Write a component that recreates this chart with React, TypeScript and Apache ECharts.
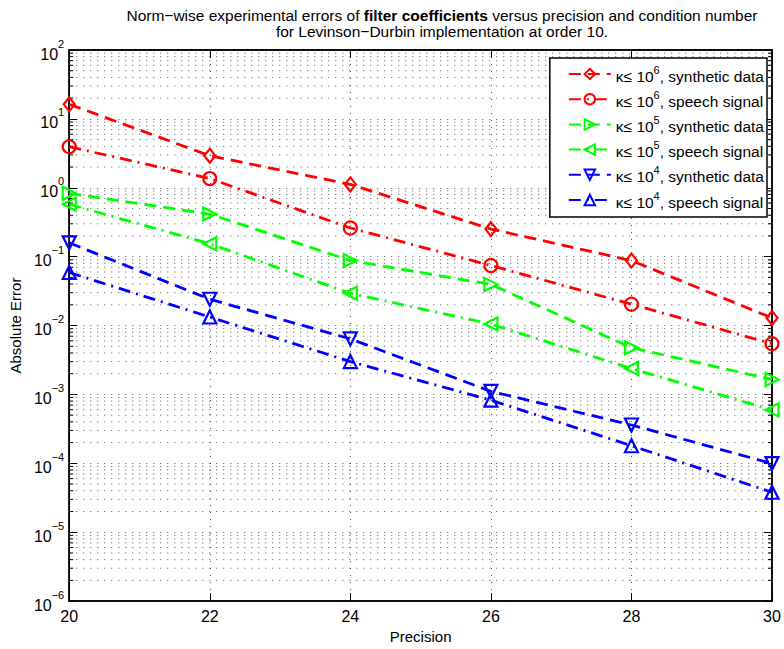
import React, { useEffect, useRef } from 'react';
import * as echarts from 'echarts';

const precision = [20, 22, 24, 26, 28, 30];
const synth6 = [16.3, 2.92, 1.12, 0.252, 0.0877, 0.0129];
const speech6 = [3.94, 1.36, 0.261, 0.0743, 0.0204, 0.00545];
const synth5 = [0.83, 0.415, 0.0877, 0.0396, 0.00477, 0.00165];
const speech5 = [0.577, 0.154, 0.0294, 0.0105, 0.00238, 0.000593];
const synth4 = [0.159, 0.0241, 0.0064, 0.00111, 0.00036, 0.0000993];
const speech4 = [0.0589, 0.0133, 0.003, 0.000826, 0.00018, 0.000038];

const seriesNames = [
  'k6 synthetic data',
  'k6 speech signal',
  'k5 synthetic data',
  'k5 speech signal',
  'k4 synthetic data',
  'k4 speech signal',
];
const exponents = ['6', '6', '5', '5', '4', '4'];
const kinds = ['synthetic data', 'speech signal', 'synthetic data', 'speech signal', 'synthetic data', 'speech signal'];
const yMin = 1e-6;
const yMax = 100;
const minorFactors = [2, 3, 4, 5, 6, 7, 8, 9];

const FONT = '"Liberation Sans", Arial, Helvetica, sans-serif';

export default function App() {
  const ref = useRef<HTMLDivElement>(null);
  useEffect(() => {
    if (!ref.current) return;
    const chart = echarts.init(ref.current, undefined, { renderer: 'svg' });

    const minorVals: number[][] = [];
    for (let e = -6; e < 2; e++) {
      for (const f of minorFactors) minorVals.push([20, f * Math.pow(10, e)]);
    }

    const dataSets = [synth6, speech6, synth5, speech5, synth4, speech4];
    const colors = ['#ff0000', '#ff0000', '#00ff00', '#00ff00', '#0000ff', '#0000ff'];
    const symbols = [
      'diamond',
      'circle',
      'path://M0,0L10,5L0,10Z',
      'path://M10,0L0,5L10,10Z',
      'path://M0,0L10,0L5,10Z',
      'path://M5,0L10,10L0,10Z',
    ];
    const symbolSizes: any[] = [[11, 14], 13, [13, 13], [13, 13], [13, 13], [13, 13]];
    const dashSynth = [12, 7];
    const dashSpeech = [12, 6, 2, 6];
    const gridDots = [1, 6];

    const lineSeries = dataSets.map((d, i) => ({
      name: seriesNames[i],
      type: 'line',
      xAxisIndex: 0,
      yAxisIndex: 0,
      data: precision.map((x, j) => [x, d[j]]),
      symbol: symbols[i],
      symbolSize: symbolSizes[i],
      showAllSymbol: true,
      color: colors[i],
      lineStyle: { color: colors[i], width: 2.8, type: i % 2 === 0 ? dashSynth : dashSpeech },
      itemStyle: { color: 'rgba(255,255,255,0)', borderColor: colors[i], borderWidth: 2.2 },
      emphasis: { disabled: true },
      z: 5,
    }));

    const option: any = {
      animation: false,
      backgroundColor: '#fff',
      title: {
        text: 'Norm\u2212wise experimental errors of {b|filter coefficients} versus precision and condition number\nfor Levinson\u2212Durbin implementation at order 10.',
        left: 437,
        top: 2,
        textAlign: 'center',
        textStyle: {
          fontFamily: FONT,
          fontSize: 15.5,
          fontWeight: 'normal',
          color: '#000',
          lineHeight: 16,
          rich: {
            b: { fontFamily: FONT, fontSize: 15.5, fontWeight: 'bold', color: '#000', lineHeight: 16 },
          },
        },
      },
      grid: {
        left: 69,
        right: 12,
        top: 50,
        bottom: 42,
        show: true,
        borderColor: '#000',
        borderWidth: 1.5,
        backgroundColor: '#fff',
      },
      legend: {
        data: seriesNames,
        orient: 'vertical',
        right: 17,
        top: 58,
        backgroundColor: '#fff',
        borderColor: '#000',
        borderWidth: 1.5,
        padding: [6, 3, 7, 18],
        itemWidth: 42,
        itemHeight: 13,
        itemGap: 5.2,
        selectedMode: false,
        formatter: (name: string) => {
          const i = seriesNames.indexOf(name);
          return '{t|\u03ba\u2264 10}{s|' + exponents[i] + '}{t|, ' + kinds[i] + '}';
        },
        textStyle: {
          color: '#000',
          fontFamily: FONT,
          fontSize: 15.5,
          rich: {
            t: { fontFamily: FONT, fontSize: 15.5, color: '#000', lineHeight: 20, verticalAlign: 'bottom' },
            s: { fontFamily: FONT, fontSize: 11, color: '#000', lineHeight: 20, verticalAlign: 'top' },
          },
        },
      },
      xAxis: [
        {
          type: 'value',
          min: 20,
          max: 30,
          interval: 2,
          position: 'bottom',
          name: 'Precision',
          nameLocation: 'middle',
          nameGap: 21,
          nameTextStyle: { fontFamily: FONT, fontSize: 15, color: '#000' },
          axisLine: { show: true, lineStyle: { color: '#000', width: 1.5 } },
          axisTick: { show: true, inside: true, length: 8, lineStyle: { color: '#000' } },
          axisLabel: { fontFamily: FONT, fontSize: 16, color: '#000', margin: 7 },
          splitLine: { show: true, lineStyle: { color: '#555', type: gridDots, width: 1 } },
        },
        {
          type: 'value',
          min: 20,
          max: 30,
          interval: 2,
          position: 'top',
          axisLine: { show: true, lineStyle: { color: '#000', width: 1.5 } },
          axisTick: { show: true, inside: true, length: 8, lineStyle: { color: '#000' } },
          axisLabel: { show: false },
          splitLine: { show: false },
        },
      ],
      yAxis: [
        {
          type: 'log',
          logBase: 10,
          min: yMin,
          max: yMax,
          interval: 1,
          position: 'left',
          name: 'Absolute Error',
          nameLocation: 'middle',
          nameGap: 43,
          nameRotate: 90,
          nameTextStyle: { fontFamily: FONT, fontSize: 15, color: '#000' },
          axisLine: { show: true, lineStyle: { color: '#000', width: 1.5 } },
          axisTick: { show: true, inside: true, length: 8, lineStyle: { color: '#000' } },
          axisLabel: {
            margin: 5,
            formatter: (v: number) => {
              const e = Math.round(Math.log10(v));
              const es = e < 0 ? '\u2212' + -e : String(e);
              return '{b|10}{s|' + es + '}';
            },
            rich: {
              b: { fontFamily: FONT, fontSize: 16, color: '#000', lineHeight: 24, verticalAlign: 'bottom' },
              s: { fontFamily: FONT, fontSize: 11, color: '#000', lineHeight: 24, verticalAlign: 'top' },
            },
          },
          splitLine: { show: true, lineStyle: { color: '#555', type: gridDots, width: 1 } },
        },
        {
          type: 'log',
          logBase: 10,
          min: yMin,
          max: yMax,
          interval: 1,
          position: 'right',
          axisLine: { show: true, lineStyle: { color: '#000', width: 1.5 } },
          axisTick: { show: true, inside: true, length: 8, lineStyle: { color: '#000' } },
          axisLabel: { show: false },
          splitLine: { show: false },
        },
      ],
      series: [
        {
          name: 'minorGrid',
          type: 'custom',
          xAxisIndex: 0,
          yAxisIndex: 0,
          silent: true,
          z: 1,
          data: minorVals,
          renderItem: (params: any, api: any) => {
            const v = api.value(1);
            const p1 = api.coord([20, v]);
            const p2 = api.coord([30, v]);
            return {
              type: 'group',
              children: [
                {
                  type: 'line',
                  shape: { x1: p1[0], y1: p1[1], x2: p2[0], y2: p2[1] },
                  style: { stroke: '#555', lineWidth: 1, lineDash: gridDots },
                },
                {
                  type: 'line',
                  shape: { x1: p1[0], y1: p1[1], x2: p1[0] + 4, y2: p1[1] },
                  style: { stroke: '#000', lineWidth: 1 },
                },
                {
                  type: 'line',
                  shape: { x1: p2[0] - 4, y1: p2[1], x2: p2[0], y2: p2[1] },
                  style: { stroke: '#000', lineWidth: 1 },
                },
              ],
            };
          },
        },
        ...lineSeries,
      ],
    };
    chart.setOption(option);
    return () => chart.dispose();
  }, []);
  return <div ref={ref} style={{ width: 784, height: 649, position: 'absolute', left: 0, top: 0 }} />;
}
